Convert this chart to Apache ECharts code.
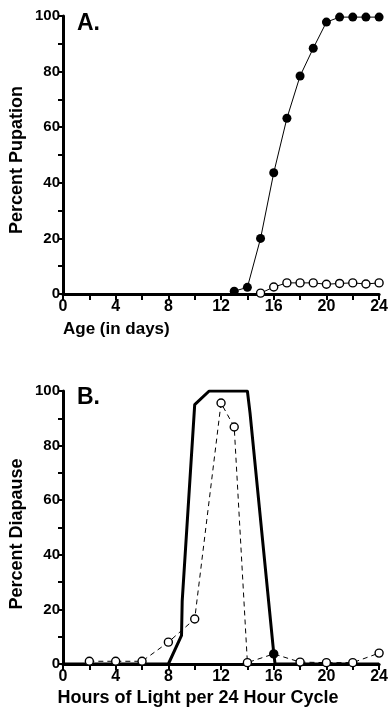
<!DOCTYPE html>
<html>
<head>
<meta charset="utf-8">
<script src="https://cdn.jsdelivr.net/npm/echarts@6/dist/echarts.min.js"></script>
<style>
  html, body { margin: 0; padding: 0; background: #fff; }
  #container { width: 391px; height: 709px; }
</style>
</head>
<body>
<div id="container"></div>
<script>
var dom = document.getElementById('container');
var myChart = echarts.init(dom);

// A. pupation vs age
var ageFilled = [13, 14, 15, 16, 17, 18, 19, 20, 21, 22, 23, 24];
var pupationFilled = [1, 2.4, 20, 43.6, 63.2, 78.4, 88.4, 97.8, 99.6, 99.6, 99.6, 99.6];
var ageOpen = [15, 16, 17, 18, 19, 20, 21, 22, 23, 24];
var pupationOpen = [0.3, 2.5, 4, 4, 4, 3.5, 3.8, 4, 3.6, 4];

// B. diapause vs photoperiod
var lightHours = [2, 4, 6, 8, 10, 12, 13, 14, 16, 18, 20, 22, 24];
var diapauseOpen = [1, 1, 1, 8, 16.5, 95.6, 86.8, 0.5, 3.7, 0.7, 0.5, 0.5, 4];
var curveHours = [0, 8, 9, 9.05, 10, 11.1, 14, 14.2, 16, 16.1, 24];
var curveDiapause = [0, 0, 10.5, 23, 95, 100, 100, 92, 4, 0, 0];

var font = '"Liberation Sans", Arial, sans-serif';

function pairs(xs, ys) {
  return xs.map(function (x, i) { return [x, ys[i]]; });
}

function xAxisCfg(gi) {
  return {
    gridIndex: gi, type: 'value', min: 0, max: 24, interval: 2,
    axisLine: { lineStyle: { color: '#000', width: 3 } },
    axisTick: { inside: false, length: 6, lineStyle: { color: '#000', width: 2 } },
    axisLabel: {
      color: '#000', fontFamily: font, fontWeight: 'bold', fontSize: 16, margin: 5,
      formatter: function (v) { return v % 4 === 0 ? v : ''; }
    },
    splitLine: { show: false }
  };
}

function yAxisCfg(gi) {
  return {
    gridIndex: gi, type: 'value', min: 0, max: 100, interval: 10,
    axisLine: { show: true, lineStyle: { color: '#000', width: 3 } },
    axisTick: { show: true, length: 5, lineStyle: { color: '#000', width: 2 } },
    axisLabel: {
      color: '#000', fontFamily: font, fontWeight: 'bold', fontSize: 15, margin: 3,
      formatter: function (v) { return v % 20 === 0 ? v : ''; }
    },
    splitLine: { show: false }
  };
}

var bData = pairs(lightHours, diapauseOpen).map(function (p) {
  if (p[0] === 16) {
    return { value: p, itemStyle: { color: '#000' } };
  }
  return p;
});

var option = {
  animation: false,
  backgroundColor: '#fff',
  grid: [
    { left: 63, right: 10, top: 16, height: 278 },
    { left: 63, right: 10, top: 391, height: 273 }
  ],
  xAxis: [xAxisCfg(0), xAxisCfg(1)],
  yAxis: [yAxisCfg(0), yAxisCfg(1)],
  graphic: [
    { type: 'text', left: 77, top: 12, style: { text: 'A.', font: 'bold 23px ' + font, fill: '#000' } },
    { type: 'text', left: 77, top: 386, style: { text: 'B.', font: 'bold 23px ' + font, fill: '#000' } },
    { type: 'text', x: 17, y: 160, rotation: Math.PI / 2,
      style: { text: 'Percent Pupation', font: 'bold 18px ' + font, fill: '#000', align: 'center', verticalAlign: 'middle' } },
    { type: 'text', x: 17, y: 534, rotation: Math.PI / 2,
      style: { text: 'Percent Diapause', font: 'bold 18px ' + font, fill: '#000', align: 'center', verticalAlign: 'middle' } },
    { type: 'text', x: 63, y: 329,
      style: { text: 'Age (in days)', font: 'bold 17px ' + font, fill: '#000', align: 'left', verticalAlign: 'middle' } },
    { type: 'text', x: 198, y: 698,
      style: { text: 'Hours of Light per 24 Hour Cycle', font: 'bold 18px ' + font, fill: '#000', align: 'center', verticalAlign: 'middle' } }
  ],
  series: [
    {
      type: 'line', xAxisIndex: 0, yAxisIndex: 0,
      data: pairs(ageFilled, pupationFilled),
      symbol: 'circle', symbolSize: 9,
      itemStyle: { color: '#000' },
      lineStyle: { color: '#000', width: 1 }
    },
    {
      type: 'line', xAxisIndex: 0, yAxisIndex: 0,
      data: pairs(ageOpen, pupationOpen),
      symbol: 'circle', symbolSize: 8,
      itemStyle: { color: '#fff', borderColor: '#000', borderWidth: 1.4 },
      lineStyle: { color: '#000', width: 1 }
    },
    {
      type: 'line', xAxisIndex: 1, yAxisIndex: 1,
      data: pairs(curveHours, curveDiapause),
      showSymbol: false, symbol: 'none',
      lineStyle: { color: '#000', width: 3 }
    },
    {
      type: 'line', xAxisIndex: 1, yAxisIndex: 1,
      data: bData,
      symbol: 'circle', symbolSize: 8,
      itemStyle: { color: '#fff', borderColor: '#000', borderWidth: 1.4 },
      lineStyle: { color: '#000', width: 1, type: [5, 4] }
    }
  ]
};

if (option && typeof option === 'object') {
  myChart.setOption(option);
}
</script>
</body>
</html>
